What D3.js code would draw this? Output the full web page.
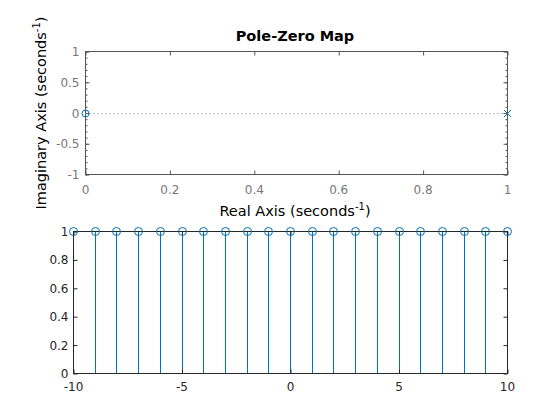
<!DOCTYPE html>
<meta charset="utf-8">
<style>
body { margin: 0; background: #fff; }
text { font-family: "DejaVu Sans", sans-serif; }
</style>
<body>
<svg id="chart" width="560" height="420"></svg>
<script src="https://cdnjs.cloudflare.com/ajax/libs/d3/7.8.5/d3.min.js"></script>
<script>

// pole-zero data
var zerosRe = [0], zerosIm = [0];
var polesRe = [1], polesIm = [0];
var pzXTicks = [0, 0.2, 0.4, 0.6, 0.8, 1];
var pzYTicks = [-1, -0.5, 0, 0.5, 1];

// stem data
var n = [-10,-9,-8,-7,-6,-5,-4,-3,-2,-1,0,1,2,3,4,5,6,7,8,9,10];
var vals = [1,1,1,1,1,1,1,1,1,1,1,1,1,1,1,1,1,1,1,1,1];
var stemXTicks = [-10, -5, 0, 5, 10];
var stemYTicks = [0, 0.2, 0.4, 0.6, 0.8, 1];

var blue = "#0072BD";
var svg = d3.select("#chart");

// snap to pixel centre so 1px lines stay crisp
var px = v => Math.round(v - 0.5) + 0.5;

function boxAxes(g, x, y, b, xt, yt, col, xGap, yGap) {
	g.append("rect")
		.attr("x", b.left).attr("y", b.top)
		.attr("width", b.right - b.left).attr("height", b.bottom - b.top)
		.attr("fill", "none").attr("stroke", col).attr("stroke-width", 1);
	// inward ticks on all four sides
	var tl = 4;
	g.append("g").attr("transform", "translate(0," + b.bottom + ")")
		.call(d3.axisTop(x).tickValues(xt).tickSize(tl).tickFormat(""))
		.call(s => s.select(".domain").remove());
	g.append("g").attr("transform", "translate(0," + b.top + ")")
		.call(d3.axisBottom(x).tickValues(xt).tickSize(tl).tickFormat(""))
		.call(s => s.select(".domain").remove());
	g.append("g").attr("transform", "translate(" + b.left + ",0)")
		.call(d3.axisRight(y).tickValues(yt).tickSize(tl).tickFormat(""))
		.call(s => s.select(".domain").remove());
	g.append("g").attr("transform", "translate(" + b.right + ",0)")
		.call(d3.axisLeft(y).tickValues(yt).tickSize(tl).tickFormat(""))
		.call(s => s.select(".domain").remove());
	g.selectAll(".tick line").attr("stroke", col);

	g.selectAll(".xlab").data(xt).enter().append("text").attr("class", "xlab")
		.attr("x", d => x(d)).attr("y", b.bottom + xGap)
		.attr("text-anchor", "middle").attr("font-size", 12)
		.attr("fill", col).text(d => d);
	g.selectAll(".ylab").data(yt).enter().append("text").attr("class", "ylab")
		.attr("x", b.left - yGap).attr("y", d => y(d) + 4.5)
		.attr("text-anchor", "end").attr("font-size", 12)
		.attr("fill", col).text(d => d);
}

// ---- top: pole-zero map ----
var top1 = {left: 85.5, right: 507.5, top: 51.5, bottom: 174.5};
var x1 = d3.scaleLinear().domain([0, 1]).range([top1.left, top1.right]);
var y1 = d3.scaleLinear().domain([-1, 1]).range([top1.bottom, top1.top]);
var grey = "#555";

var g1 = svg.append("g");
boxAxes(g1, x1, y1, top1, pzXTicks, pzYTicks, grey, 19, 6);
g1.selectAll(".xlab, .ylab").attr("fill", "#777");

// minor ticks on the y axis
var minor = d3.range(-1, 1.0001, 0.1).map(d => +d.toFixed(2));
g1.append("g").attr("transform", "translate(" + top1.left + ",0)")
	.call(d3.axisRight(y1).tickValues(minor).tickSize(2).tickFormat(""))
	.call(s => s.select(".domain").remove())
	.selectAll("line").attr("stroke", grey);
g1.append("g").attr("transform", "translate(" + top1.right + ",0)")
	.call(d3.axisLeft(y1).tickValues(minor).tickSize(2).tickFormat(""))
	.call(s => s.select(".domain").remove())
	.selectAll("line").attr("stroke", grey);

// dotted zero line
g1.append("line")
	.attr("x1", x1(0)).attr("x2", x1(1))
	.attr("y1", px(y1(0))).attr("y2", px(y1(0)))
	.attr("stroke", "#888").attr("stroke-dasharray", "1,3");

g1.selectAll(".zero").data(zerosRe).enter().append("circle").attr("class", "zero")
	.attr("cx", d => x1(d)).attr("cy", (d, i) => px(y1(zerosIm[i])))
	.attr("r", 3.5).attr("fill", "none").attr("stroke", blue);

g1.selectAll(".pole").data(polesRe).enter().append("path").attr("class", "pole")
	.attr("d", (d, i) => {
		var cx = x1(d), cy = px(y1(polesIm[i])), s = 3.5;
		return "M" + (cx - s) + "," + (cy - s) + "L" + (cx + s) + "," + (cy + s) +
			"M" + (cx - s) + "," + (cy + s) + "L" + (cx + s) + "," + (cy - s);
	})
	.attr("stroke", blue).attr("fill", "none");

svg.append("text").attr("x", 295).attr("y", 41)
	.attr("text-anchor", "middle").attr("font-size", 14.5).attr("font-weight", "bold")
	.text("Pole-Zero Map");

var xl = svg.append("text").attr("x", 295).attr("y", 216)
	.attr("text-anchor", "middle").attr("font-size", 14.5).attr("fill", "#000");
xl.append("tspan").text("Real Axis (seconds");
xl.append("tspan").attr("font-size", 10).attr("dy", -6).text("-1");
xl.append("tspan").attr("dy", 6).text(")");

var yl = svg.append("text")
	.attr("transform", "translate(46," + ((top1.top + top1.bottom) / 2) + ") rotate(-90)")
	.attr("text-anchor", "middle").attr("font-size", 14.5).attr("fill", "#000");
yl.append("tspan").text("Imaginary Axis (seconds");
yl.append("tspan").attr("font-size", 10).attr("dy", -6).text("-1");
yl.append("tspan").attr("dy", 6).text(")");

// ---- bottom: stem plot ----
var bot = {left: 73.5, right: 507.5, top: 231.5, bottom: 373.5};
var x2 = d3.scaleLinear().domain([-10, 10]).range([bot.left, bot.right]);
var y2 = d3.scaleLinear().domain([0, 1]).range([bot.bottom, bot.top]);
var g2 = svg.append("g");
var dark = "#262626";

g2.selectAll(".stem").data(n).enter().append("line").attr("class", "stem")
	.attr("x1", d => px(x2(d))).attr("x2", d => px(x2(d)))
	.attr("y1", y2(0)).attr("y2", (d, i) => y2(vals[i]))
	.attr("stroke", blue).attr("stroke-width", 1);

boxAxes(g2, x2, y2, bot, stemXTicks, stemYTicks, dark, 17, 5);

g2.selectAll(".mk").data(n).enter().append("circle").attr("class", "mk")
	.attr("cx", d => px(x2(d))).attr("cy", (d, i) => y2(vals[i]))
	.attr("r", 4).attr("fill", "none").attr("stroke", blue);

</script>
